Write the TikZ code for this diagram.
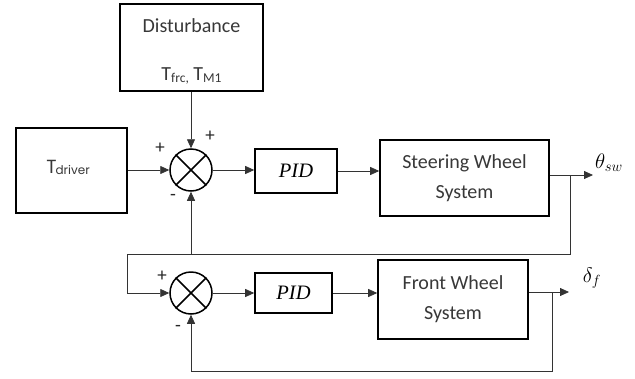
\RequirePackage{fix-cm}
\documentclass[tikz,border=0pt]{standalone}
\usepackage{fontspec}
\setmainfont{Carlito}
\newfontfamily\geofont{Poppins}
\newfontfamily\pidfont{Liberation Serif}
\usetikzlibrary{arrows.meta}

\tikzset{
  blockbox/.style={draw=black, line width=1.6pt, rectangle, inner sep=0pt,
    text=black!78, align=center,
    font=\fontsize{20}{30}\selectfont},
  pidbox/.style={blockbox, text=black, font=\pidfont\itshape\fontsize{20.5}{20}\selectfont},
  sumjunc/.style={draw=black, line width=1.5pt, circle, minimum size=42pt, inner sep=0pt},
  wire/.style={draw=black!80, line width=0.8pt},
  arr/.style={wire, -{Triangle[length=9pt,width=8pt]}},
  sign/.style={inner sep=0pt, text=black!85, font=\fontsize{19}{19}\selectfont},
  outlabel/.style={inner sep=0pt, font=\fontsize{21}{21}\selectfont}
}

% draws the x inside a summing junction
\newcommand{\crossmark}[1]{%
  \draw[line width=1.5pt] (#1.north east) -- (#1.south west)
                          (#1.north west) -- (#1.south east);}

\begin{document}
\begin{tikzpicture}[x=1pt,y=-1pt]
\useasboundingbox (0,0) rectangle (635,378);
\fill[white] (0,0) rectangle (635,378);

% blocks
\node[blockbox, minimum width=143pt, minimum height=87pt] (dist) at (191.5,47.5) {};
\node[text=black!78, font=\fontsize{20}{20}\selectfont, inner sep=0pt] (distA) at (191.5,26) {Disturbance};
\node[text=black!78, inner sep=0pt] (distB) at (191.5,76)
  {\fontsize{20}{20}\selectfont T\raisebox{-2pt}{\fontsize{13.5}{13}\selectfont frc,} T\raisebox{-2pt}{\fontsize{13.5}{13}\selectfont M1}};

\node[blockbox, minimum width=111pt, minimum height=85pt] (drv) at (71.5,170.5) {};
\node[text=black!78, inner sep=0pt] (drvtxt) at (68,167)
  {\geofont\fontsize{19}{19}\selectfont T\kern-1pt\raisebox{-1pt}{\fontsize{12}{12}\selectfont driver}};

\node[sumjunc] (s1) at (191,170) {};
\crossmark{s1}
\node[pidbox, minimum width=82pt, minimum height=44pt] (pid1) at (296,171) {PID};
\node[blockbox, minimum width=169pt, minimum height=76pt] (sws) at (464.5,178) {Steering Wheel\\System};

\node[sumjunc] (s2) at (191,293) {};
\crossmark{s2}
\node[pidbox, minimum width=77pt, minimum height=40pt] (pid2) at (293.5,293) {PID};
\node[blockbox, minimum width=150pt, minimum height=79pt] (fws) at (453,299.5) {Front Wheel\\System};

% signs
\node[sign] (p1) at (160,148) {+};
\node[sign] (p2) at (210,136) {+};
\node[sign] (m1) at (173,197) {-};
\node[sign] (p3) at (162,276) {+};
\node[sign] (m2) at (178,328) {-};

% output labels
\node[outlabel] (th) at (609,163) {$\theta_{sw}$};
\node[outlabel] (df) at (592,278) {$\delta_f$};

% helper points
\coordinate (o1) at (593,175);
\coordinate (t1) at (570,175);
\coordinate (f1) at (570,254);
\coordinate (f2) at (127,254);
\coordinate (f3) at (127,293);
\coordinate (o2) at (569,292);
\coordinate (t2) at (552,292);
\coordinate (g1) at (552,371);
\coordinate (g2) at (191,371);

% upper loop
\draw[arr] (drv.east |- s1.west) -- (s1.west);
\draw[arr] (dist.south -| s1.north) -- (s1.north);
\draw[arr] (s1.east) -- (pid1.west |- s1.east);
\draw[arr] (pid1.east) -- (sws.west |- pid1.east);
\draw[arr] (sws.east |- o1) -- (o1);
\draw[wire] (t1) -- (f1) -- (f2) -- (f3);
\draw[arr] (f3) -- (s2.west);
\draw[arr] (s1.south |- f1) -- (s1.south);

% lower loop
\draw[arr] (s2.east) -- (pid2.west |- s2.east);
\draw[arr] (pid2.east) -- (fws.west |- pid2.east);
\draw[arr] (fws.east |- o2) -- (o2);
\draw[wire] (t2) -- (g1) -- (g2);
\draw[arr] (g2) -- (s2.south);
\end{tikzpicture}
\end{document}
